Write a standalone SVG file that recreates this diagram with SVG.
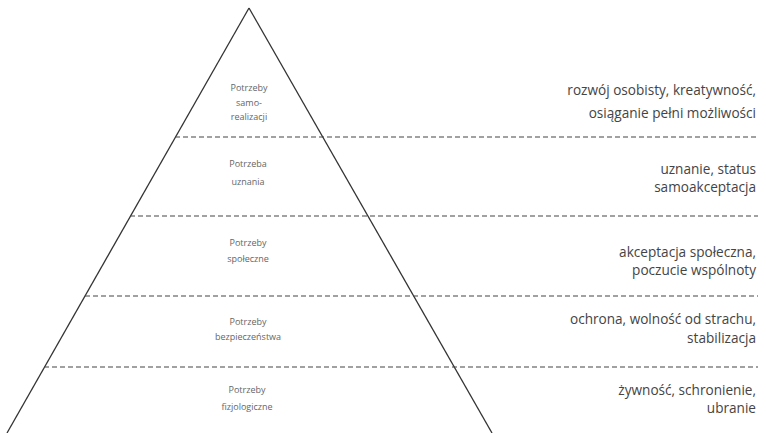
<svg xmlns="http://www.w3.org/2000/svg" width="766" height="433" viewBox="0 0 766 433">
<style>
.side{stroke:#333;stroke-width:1.3;fill:none}
.dash{stroke:#444;stroke-width:1.2;stroke-dasharray:5 3;fill:none}
.lvl{font-family:"Open Sans","Noto Sans",sans-serif;font-size:9px;fill:#666;text-anchor:middle}
.desc{font-family:"Open Sans","Noto Sans",sans-serif;font-size:13.6px;fill:#444;text-anchor:end}
</style>
<rect width="766" height="433" fill="#fff"/>
<g id="pyramid">
<line class="side" x1="249" y1="8" x2="7" y2="433"/>
<line class="side" x1="249" y1="8" x2="492" y2="433"/>
</g>
<g id="connectors">
<line class="dash" x1="175" y1="137" x2="758" y2="137"/>
<line class="dash" x1="130" y1="216" x2="758" y2="216"/>
<line class="dash" x1="85" y1="296" x2="758" y2="296"/>
<line class="dash" x1="44" y1="367" x2="758" y2="367"/>
</g>
<g id="level1">
<text class="lvl" x="249" y="91">Potrzeby</text>
<text class="lvl" x="249" y="106">samo-</text>
<text class="lvl" x="249" y="120">realizacji</text>
<text class="desc" x="756" y="95">rozwój osobisty, kreatywność,</text>
<text class="desc" x="756" y="118">osiąganie pełni możliwości</text>
</g>
<g id="level2">
<text class="lvl" x="248" y="167">Potrzeba</text>
<text class="lvl" x="248" y="185">uznania</text>
<text class="desc" x="756" y="174">uznanie, status</text>
<text class="desc" x="756" y="192">samoakceptacja</text>
</g>
<g id="level3">
<text class="lvl" x="248" y="246">Potrzeby</text>
<text class="lvl" x="248" y="262">społeczne</text>
<text class="desc" x="756" y="257">akceptacja społeczna,</text>
<text class="desc" x="756" y="275">poczucie wspólnoty</text>
</g>
<g id="level4">
<text class="lvl" x="248" y="325">Potrzeby</text>
<text class="lvl" x="248" y="340">bezpieczeństwa</text>
<text class="desc" x="756" y="324">ochrona, wolność od strachu,</text>
<text class="desc" x="756" y="343">stabilizacja</text>
</g>
<g id="level5">
<text class="lvl" x="247" y="393">Potrzeby</text>
<text class="lvl" x="247" y="410">fizjologiczne</text>
<text class="desc" x="756" y="395">żywność, schronienie,</text>
<text class="desc" x="756" y="413">ubranie</text>
</g>
</svg>
